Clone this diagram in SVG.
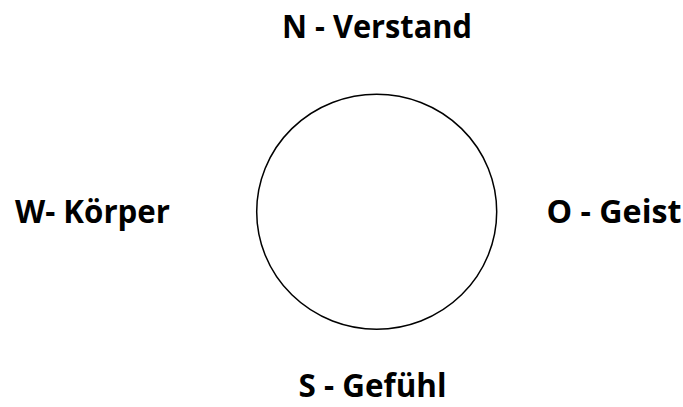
<svg xmlns="http://www.w3.org/2000/svg" width="683" height="407" viewBox="0 0 683 407">
<style>
.t{font-family:"Open Sans","Liberation Sans",sans-serif;font-weight:bold;font-size:31.5px;fill:#000;text-anchor:middle}
</style>
<rect width="683" height="407" fill="#fff"/>
<g id="circle"><ellipse cx="376.7" cy="211.7" rx="120" ry="117.5" fill="none" stroke="#000" stroke-width="1.5"/></g>
<g id="north"><text class="t" x="377" y="37.7" textLength="190" lengthAdjust="spacingAndGlyphs">N - Verstand</text></g>
<g id="west"><text class="t" x="92.5" y="223.3" textLength="155" lengthAdjust="spacingAndGlyphs">W- Körper</text></g>
<g id="east"><text class="t" x="614" y="223.3" textLength="135" lengthAdjust="spacingAndGlyphs">O - Geist</text></g>
<g id="south"><text class="t" x="372.5" y="396.7" textLength="148" lengthAdjust="spacingAndGlyphs">S - Gefühl</text></g>
</svg>
